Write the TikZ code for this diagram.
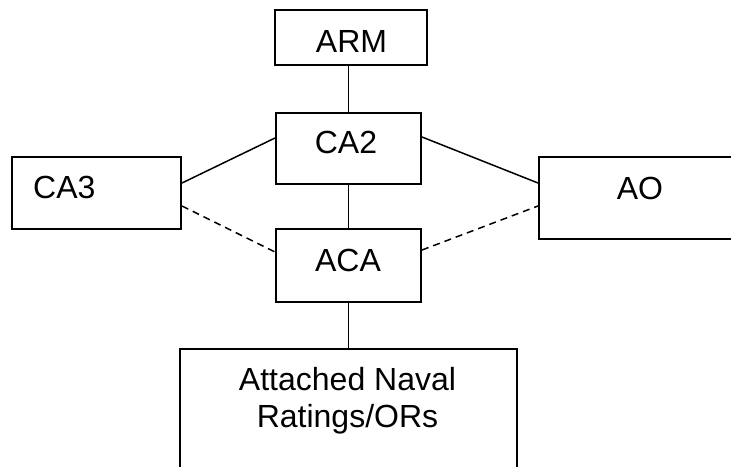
\documentclass[tikz,border=0pt]{standalone}
\usepackage{fontspec}
\setmainfont{Liberation Sans}
\usetikzlibrary{calc}
\begin{document}
\begin{tikzpicture}[x=1pt,y=-1pt,
  box/.style={draw,line width=2pt,inner sep=0pt,rectangle},
  lbl/.style={font=\fontsize{32}{37}\selectfont,inner sep=0pt,anchor=base},
  conn/.style={line width=1.5pt},
  dconn/.style={line width=1.5pt,dash pattern=on 7pt off 5pt}]
\useasboundingbox (0,0) rectangle (731,466);
\clip (0,0) rectangle (731,466);
\node[box,minimum width=152pt,minimum height=55pt] (arm) at (351,37.5) {};
\node[box,minimum width=145pt,minimum height=71pt] (ca2) at (348.5,148.5) {};
\node[box,minimum width=145pt,minimum height=73pt] (aca) at (348.5,265.5) {};
\node[box,minimum width=169pt,minimum height=72pt] (ca3) at (96.5,193) {};
\node[box,minimum width=220pt,minimum height=82pt] (ao) at (649,198) {};
\node[box,minimum width=337pt,minimum height=140pt] (att) at (348.5,419) {};
\node[lbl] (tarm) at (351.5,52) {ARM};
\node[lbl] (tca2) at (346,153) {CA2};
\node[lbl] (taca) at (348,271) {ACA};
\node[lbl,anchor=base west] (tca3) at (33,198) {CA3};
\node[lbl] (tao) at (640,199) {AO};
\node[lbl] (tatt1) at (347.5,390) {Attached Naval};
\node[lbl] (tatt2) at (347.5,427) {Ratings/ORs};
\draw[conn] (ca2.north) -- (ca2.north |- arm.south);
\draw[conn] (ca2.south) -- (aca.north);
\draw[conn] (aca.south) -- (att.north);
\draw[conn] ([yshift=10pt]ca3.east) -- ([yshift=10.5pt]ca2.west);
\draw[dconn] ([yshift=-13pt]ca3.east) -- ([yshift=13.5pt]aca.west);
\draw[conn] ([yshift=11.5pt]ca2.east) -- ([yshift=15pt]ao.west);
\draw[dconn] ([yshift=15.5pt]aca.east) -- ([yshift=-8pt]ao.west);
\end{tikzpicture}
\end{document}
